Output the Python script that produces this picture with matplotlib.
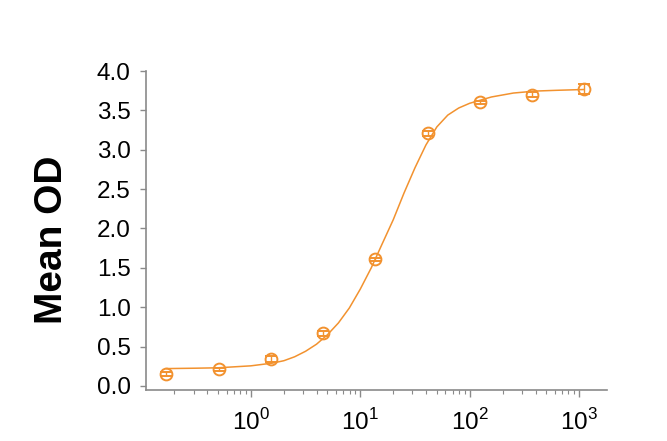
import numpy as np
import matplotlib
matplotlib.use("Agg")
import matplotlib.pyplot as plt
from matplotlib.ticker import LogLocator, NullFormatter

plt.rcParams['font.family'] = ['Liberation Sans', 'DejaVu Sans']
plt.rcParams['mathtext.fontset'] = 'custom'
plt.rcParams['mathtext.rm'] = 'Liberation Sans'

# measured points (concentration, mean OD, sd)
conc = [0.169, 0.508, 1.52, 4.57, 13.7, 41.2, 123.5, 370.4, 1111.0]
mean_od = [0.15, 0.21, 0.34, 0.67, 1.61, 3.21, 3.60, 3.70, 3.77]
sd = [0.03, 0.02, 0.04, 0.03, 0.02, 0.03, 0.02, 0.03, 0.06]

# fitted curve
fit_x = [0.169, 0.316, 0.5, 1.0, 1.58, 2.0, 2.51, 3.16, 3.98, 5.01, 6.31, 7.94,
         10.0, 12.6, 15.8, 20.0, 25.1, 31.6, 39.8, 50.1, 63.1, 79.4, 100, 158,
         251, 398, 631, 1111]
fit_y = [0.22, 0.225, 0.23, 0.255, 0.29, 0.32, 0.37, 0.44, 0.53, 0.65, 0.80, 0.99,
         1.23, 1.50, 1.80, 2.11, 2.45, 2.77, 3.06, 3.29, 3.44, 3.53, 3.59, 3.67,
         3.72, 3.745, 3.755, 3.765]

orange = '#F2922F'
grey = '#8a8a8a'

fig = plt.figure(figsize=(6.67, 4.41), dpi=100)
ax = fig.add_axes([0.219, 0.116, 0.691, 0.723])

ax.plot(fit_x, fit_y, color=orange, lw=1.1)
ax.errorbar(conc, mean_od, yerr=sd, fmt='o', mfc='none', mec=orange, ms=8.5, mew=1.4,
            ecolor=orange, elinewidth=1.0, capsize=4, capthick=1.0)

ax.set_xscale('log')
ax.set_xlim(0.11, 1800)
ax.set_ylim(-0.05, 4.0)
yt = np.arange(0, 4.01, 0.5)
ax.set_yticks(yt)
ax.set_yticklabels(['%.1f' % v for v in yt])
ax.set_xticks([1, 10, 100, 1000])
ax.set_xticklabels([r'$10^{0}$', r'$10^{1}$', r'$10^{2}$', r'$10^{3}$'])
ax.xaxis.set_minor_locator(LogLocator(base=10, subs=np.arange(2, 10), numticks=20))
ax.xaxis.set_minor_formatter(NullFormatter())

for s in ['top', 'right']:
    ax.spines[s].set_visible(False)
for s in ['left', 'bottom']:
    ax.spines[s].set_color(grey)
    ax.spines[s].set_linewidth(1.2)

ax.tick_params(axis='y', which='major', length=4, width=1, color=grey, labelsize=17.5, pad=7)
ax.tick_params(axis='x', which='major', length=5, width=1, color=grey, labelsize=17.5, pad=9)
ax.tick_params(axis='x', which='minor', length=3, width=0.8, color=grey)

ax.set_ylabel('Mean OD', fontsize=28, fontweight='bold')
ax.yaxis.set_label_coords(-0.165, 0.47)

fig.savefig('out.png', dpi=100)
